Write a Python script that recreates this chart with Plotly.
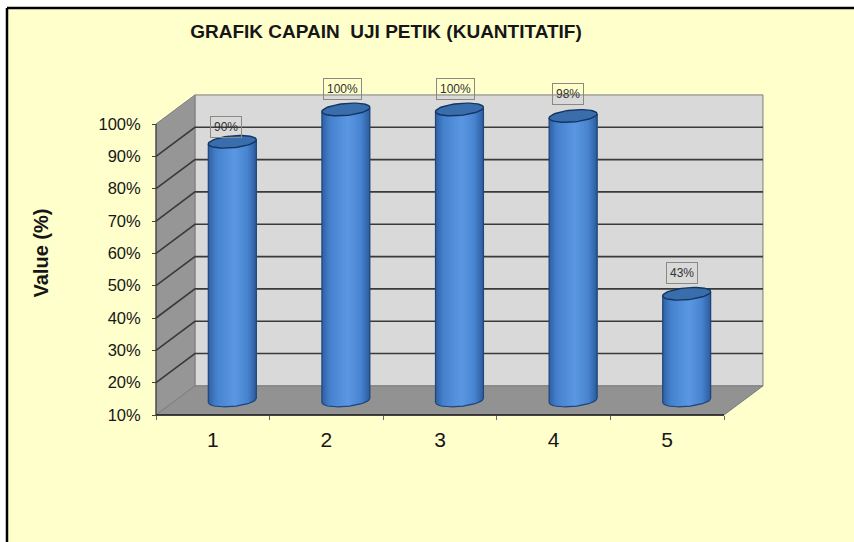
import numpy as np
import plotly.graph_objects as go

categories = [1, 2, 3, 4, 5]
values = [90, 100, 100, 98, 43]
value_ticks = [10, 20, 30, 40, 50, 60, 70, 80, 90, 100]
value_tick_labels = ["10%", "20%", "30%", "40%", "50%", "60%", "70%", "80%", "90%", "100%"]
data_labels = ["90%", "100%", "100%", "98%", "43%"]
title_text = "GRAFIK CAPAIN  UJI PETIK (KUANTITATIF)"

W, H = 854, 542
PX_X0, PX_X_STEP = 212.8, 113.6   # pixel of category 1, pixels per category
PX_Y10, PX_Y_STEP = 415.0, 3.233  # pixel of 10%, pixels per percent
DX, DY = 0.343, 9.0               # 3-D depth in axis units
HW, EH, TILT = 0.211, 1.85, 0.65  # cylinder half width, ellipse half height, tilt
YMIN, YMAX = value_ticks[0], value_ticks[-1]
XL, XR = categories[0] - 0.5, categories[-1] + 0.5

x_range = [1 - PX_X0 / PX_X_STEP, 1 + (W - PX_X0) / PX_X_STEP]
y_range = [10 - (H - PX_Y10) / PX_Y_STEP, 10 + PX_Y10 / PX_Y_STEP]

GRID = "#3a3a3a"
EDGE = "#7d7d7d"
TEXT = "#161616"
fig = go.Figure()


def poly(xs, ys, fill, line=EDGE, width=1):
    fig.add_trace(go.Scatter(x=xs, y=ys, mode="lines", fill="toself", fillcolor=fill,
                             line=dict(color=line, width=width), hoverinfo="skip",
                             showlegend=False))


def lines(xs, ys, color, width):
    fig.add_trace(go.Scatter(x=xs, y=ys, mode="lines", line=dict(color=color, width=width),
                             hoverinfo="skip", showlegend=False))


# walls and floor
poly([XL + DX, XR + DX, XR + DX, XL + DX, XL + DX],
     [YMIN + DY, YMIN + DY, YMAX + DY, YMAX + DY, YMIN + DY], "#d9d9d9")
poly([XL, XL + DX, XL + DX, XL, XL], [YMIN, YMIN + DY, YMAX + DY, YMAX, YMIN], "#969696")
poly([XL, XR, XR + DX, XL + DX, XL], [YMIN, YMIN, YMIN + DY, YMIN + DY, YMIN], "#929292")

# gridlines across side wall and back wall
gx, gy = [], []
for v in value_ticks[1:-1]:
    gx += [XL, XL + DX, XR + DX, None]
    gy += [v, v + DY, v + DY, None]
lines(gx, gy, GRID, 1.6)

# cylinder bodies: overlapping colour bands, one trace per band across all cylinders
N = 30
us = np.linspace(-1, 1, N + 1)[:-1]
stops = [(-1.0, (50, 100, 168)), (-0.7, (70, 130, 206)), (0.05, (92, 152, 226)),
         (0.6, (72, 132, 208)), (1.0, (44, 88, 152))]
sp = [s[0] for s in stops]


def band_colour(u):
    return "rgb(%d,%d,%d)" % tuple(np.interp(u, sp, [s[1][i] for s in stops]) for i in range(3))


for u0 in us:
    bx, by = [], []
    arc = np.linspace(u0, 1, max(2, int((1 - u0) * 12)))
    for c, v in zip(categories, values):
        cx = c + DX / 2
        base = YMIN + DY / 2
        top = v + DY / 2
        bx += list(cx + HW * arc) + list(cx + HW * arc[::-1]) + [None]
        by += list(base + TILT * arc - EH * np.sqrt(1 - arc ** 2)) + \
              list(top + TILT * arc[::-1]) + [None]
    fig.add_trace(go.Scatter(x=bx, y=by, mode="none", fill="toself", fillcolor=band_colour(u0),
                             hoverinfo="skip", showlegend=False))

# outlines and top ellipses
t = np.linspace(0, 2 * np.pi, 61)
ox, oy, ex, ey = [], [], [], []
arc = np.linspace(-1, 1, 41)
for c, v in zip(categories, values):
    cx = c + DX / 2
    base = YMIN + DY / 2
    top = v + DY / 2
    ox += [cx - HW] + list(cx + HW * arc) + [cx + HW, None]
    oy += [top - TILT] + list(base + TILT * arc - EH * np.sqrt(1 - arc ** 2)) + [top + TILT, None]
    ex += list(cx + HW * np.cos(t)) + [None]
    ey += list(top + TILT * np.cos(t) + EH * np.sin(t)) + [None]
lines(ox, oy, "#1f4579", 1.2)
fig.add_trace(go.Scatter(x=ex, y=ey, mode="lines", fill="toself", fillcolor="#3a6dac",
                         line=dict(color="#123563", width=1.4), hoverinfo="skip",
                         showlegend=False))

# axis lines
lines([XL, XL], [YMIN, YMAX], "#333333", 1)
lines([XL, XR], [YMIN, YMIN], "#1a1a1a", 1.6)

# data labels
label_dx = [-6, -3, -3.5, -5, -5]
label_dy = [15, 20, 20, 22, 21]
for c, v, s, ldx, ldy in zip(categories, values, data_labels, label_dx, label_dy):
    fig.add_annotation(x=c + DX / 2, y=v + DY / 2, text=s, showarrow=False, xshift=ldx, yshift=ldy,
                       font=dict(family="Liberation Sans", size=12, color="#333333"),
                       bordercolor="#8a8a80", borderwidth=1, borderpad=3)

# value-axis title
fig.add_annotation(xref="paper", yref="paper", x=41 / W, y=1 - 253.5 / H, text="Value (%)",
                   textangle=-90, showarrow=False, xanchor="center", yanchor="middle",
                   font=dict(family="Liberation Sans", size=20, color=TEXT, weight="bold"))

# slide background with its black frame (left and top edges only)
fig.add_shape(type="rect", xref="paper", yref="paper", layer="below",
              x0=7 / W, x1=1, y0=0, y1=1 - 8 / H, fillcolor="#ffffcc", line=dict(width=0))
fig.add_shape(type="line", xref="paper", yref="paper", layer="below",
              x0=7 / W, x1=7 / W, y0=0, y1=1 - 8 / H, line=dict(color="#000000", width=2.5))
fig.add_shape(type="line", xref="paper", yref="paper", layer="below",
              x0=7 / W, x1=1, y0=1 - 8 / H, y1=1 - 8 / H, line=dict(color="#000000", width=2.5))

fig.update_layout(
    width=W, height=H, autosize=False, margin=dict(l=0, r=0, t=0, b=0),
    paper_bgcolor="#ffffff", plot_bgcolor="rgba(0,0,0,0)", showlegend=False,
    font=dict(family="Liberation Sans", color=TEXT),
    title=dict(text=title_text, x=386 / W, y=1 - 31 / H, xref="paper", yref="paper",
               xanchor="center", yanchor="middle",
               font=dict(family="Liberation Sans", size=19, color=TEXT, weight="bold")),
    xaxis=dict(domain=[0, 1], range=x_range, anchor="free", position=1 - PX_Y10 / H,
               tickmode="array", tickvals=categories, ticktext=[str(c) for c in categories],
               ticks="", ticklen=4, showgrid=False, zeroline=False, showline=False,
               tickfont=dict(size=21, color=TEXT), ticklabelstandoff=10,
               minor=dict(tickmode="array", tickvals=[c - 0.5 for c in categories] + [XR],
                          ticks="outside", ticklen=4, tickcolor="#666666", showgrid=False)),
    yaxis=dict(domain=[0, 1], range=y_range, anchor="free", position=(PX_X0 - 0.5 * PX_X_STEP) / W,
               tickmode="array", tickvals=value_ticks, ticktext=value_tick_labels,
               ticks="outside", ticklen=4, tickcolor="#444444", showgrid=False, zeroline=False,
               showline=False, tickfont=dict(size=16.5, color=TEXT), ticklabelstandoff=8),
)
fig.write_html("out.html", config={"displayModeBar": False},
               post_script="document.body.style.margin='0';")
